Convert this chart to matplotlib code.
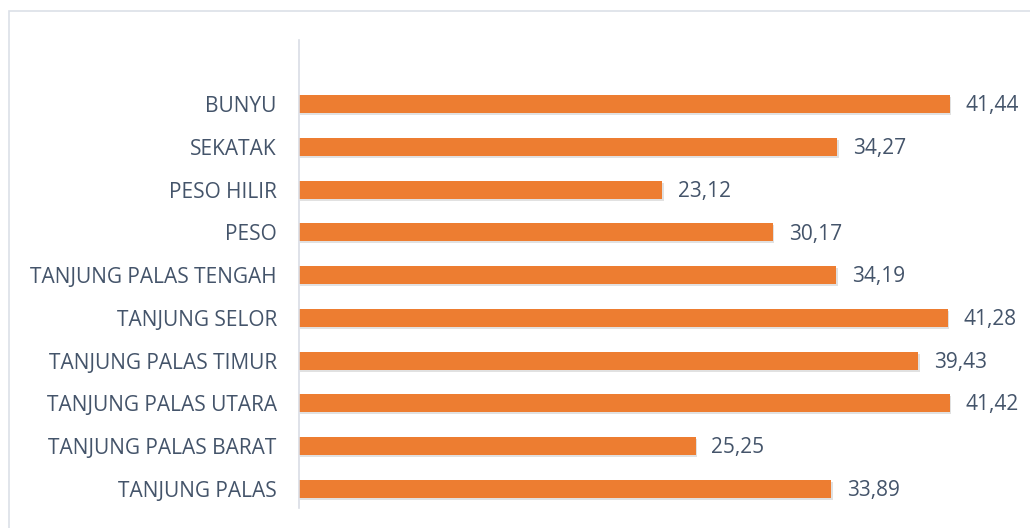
import matplotlib.pyplot as plt
import matplotlib.patheffects as pe
from matplotlib.patches import Rectangle

plt.rcParams['font.family'] = ['Open Sans', 'DejaVu Sans']

districts = ["TANJUNG PALAS", "TANJUNG PALAS BARAT", "TANJUNG PALAS UTARA",
             "TANJUNG PALAS TIMUR", "TANJUNG SELOR", "TANJUNG PALAS TENGAH",
             "PESO", "PESO HILIR", "SEKATAK", "BUNYU"]
values = [33.89, 25.25, 41.42, 39.43, 41.28, 34.19, 30.17, 23.12, 34.27, 41.44]

BAR = "#ED7D31"
TEXT = "#44546A"

fig = plt.figure(figsize=(10.30, 5.28), dpi=100)
# outer chart border
fig.patches.append(Rectangle((9 / 1030, -0.05), 1.1, 1 - 11 / 528 + 0.05,
                             transform=fig.transFigure, fill=False,
                             edgecolor="#DCE0E8", linewidth=1.2))

ax = fig.add_axes([299 / 1030, 20 / 528, (1006 - 299) / 1030, (488 - 20) / 528])
y = range(len(districts))
bars = ax.barh(y, values, height=0.42, color=BAR,
               path_effects=[pe.SimplePatchShadow(offset=(1, -1.5), shadow_rgbFace="#888888", alpha=0.25),
                             pe.Normal()])

for yi, v in zip(y, values):
    ax.text(v + 1.0, yi - 0.04, f"{v:.2f}".replace(".", ","), va="center", ha="left",
            fontsize=15, color=TEXT)

ax.set_xlim(0, 45)
ax.set_ylim(-0.45, 10.5)
ax.set_yticks(list(y))
ax.set_yticklabels(districts, fontsize=15, color=TEXT)
ax.tick_params(axis="y", length=0, pad=16)
ax.set_xticks([])
for s in ["top", "right", "bottom"]:
    ax.spines[s].set_visible(False)
ax.spines["left"].set_color("#D9DDE5")
ax.spines["left"].set_linewidth(1.2)

fig.savefig("out.png", dpi=100)
